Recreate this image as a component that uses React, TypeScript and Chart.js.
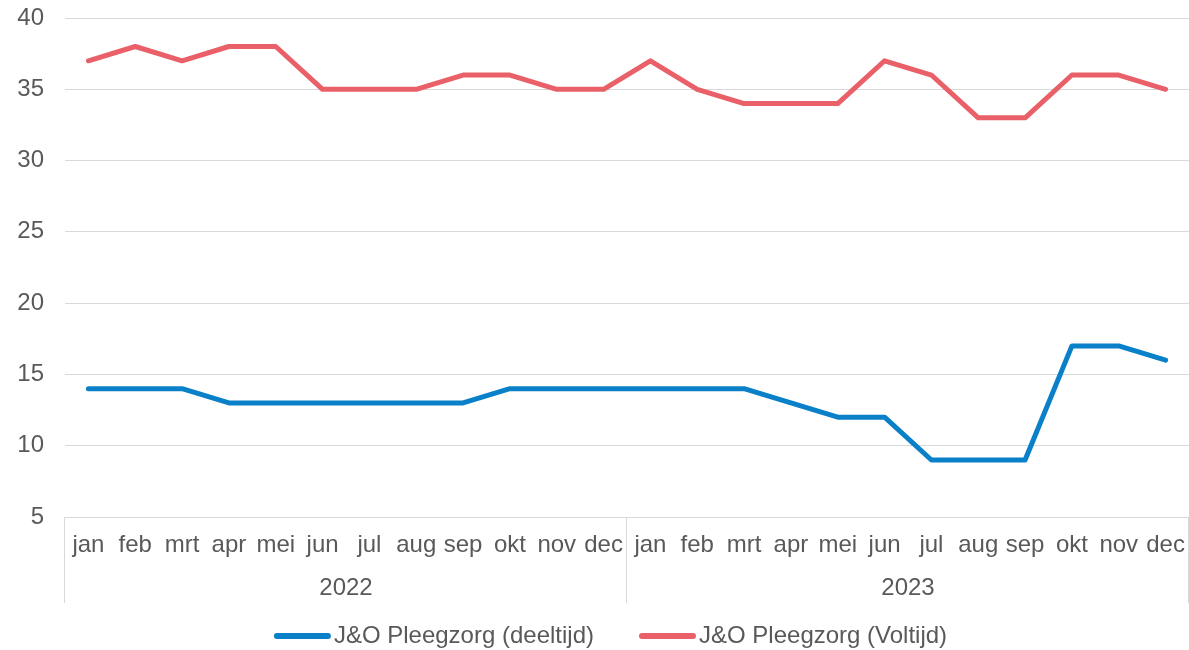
import React, { useEffect, useRef } from "react";
import { Chart, registerables } from "chart.js";

Chart.register(...registerables);

const months = ["jan", "feb", "mrt", "apr", "mei", "jun", "jul", "aug", "sep", "okt", "nov", "dec"];
const years = ["2022", "2023"];
const deeltijd = [14, 14, 14, 13, 13, 13, 13, 13, 13, 14, 14, 14, 14, 14, 14, 13, 12, 12, 9, 9, 9, 17, 17, 16];
const voltijd = [37, 38, 37, 38, 38, 35, 35, 35, 36, 36, 35, 35, 37, 35, 34, 34, 34, 37, 36, 33, 33, 36, 36, 35];
const yTicks = [5, 10, 15, 20, 25, 30, 35, 40];
const seriesNames = ["J&O Pleegzorg (deeltijd)", "J&O Pleegzorg (Voltijd)"];

const FONT = "'Liberation Sans', Arial, sans-serif";
const FS = 24;
const TEXT = "#595959";
const GRID = "#d9d9d9";
const BLUE = "#0a80c8";
const RED = "#ea6068";

const yearPlugin = {
  id: "yearGroups",
  afterDraw(chart: any) {
    const xs = chart.scales.x;
    const ctx = chart.ctx;
    const n = months.length;
    ctx.save();
    ctx.strokeStyle = GRID;
    ctx.lineWidth = 1;
    const top = xs.top;
    const bottom = xs.top + 86;
    for (let g = 0; g <= years.length; g++) {
      let x: number;
      if (g === 0) x = xs.left;
      else if (g === years.length) x = xs.right;
      else x = (xs.getPixelForValue(g * n - 1) + xs.getPixelForValue(g * n)) / 2;
      const px = Math.round(x) - 0.5;
      ctx.beginPath();
      ctx.moveTo(px, top);
      ctx.lineTo(px, bottom);
      ctx.stroke();
    }
    ctx.fillStyle = TEXT;
    ctx.font = `${FS}px ${FONT}`;
    ctx.textAlign = "center";
    ctx.textBaseline = "middle";
    years.forEach((y, g) => {
      const cx = (xs.getPixelForValue(g * n) + xs.getPixelForValue(g * n + n - 1)) / 2;
      ctx.fillText(y, cx, top + 71);
    });
    ctx.restore();
  },
};

const legendPlugin = {
  id: "customLegend",
  afterDraw(chart: any) {
    const ctx = chart.ctx;
    ctx.save();
    ctx.font = `${FS}px ${FONT}`;
    ctx.textBaseline = "middle";
    ctx.textAlign = "left";
    const lineLen = 57;
    const gapText = 3;
    const gapItem = 45;
    const items = chart.data.datasets.map((d: any) => ({
      label: d.label,
      color: d.borderColor,
      w: lineLen + gapText + ctx.measureText(d.label).width,
    }));
    const total = items.reduce((a: number, it: any) => a + it.w, 0) + gapItem * (items.length - 1);
    let x = chart.width / 2 + 16 - total / 2;
    const y = chart.height - 14;
    items.forEach((it: any) => {
      ctx.strokeStyle = it.color;
      ctx.lineWidth = 6;
      ctx.lineCap = "round";
      ctx.beginPath();
      ctx.moveTo(x + 3, y);
      ctx.lineTo(x + lineLen - 3, y);
      ctx.stroke();
      ctx.fillStyle = TEXT;
      ctx.fillText(it.label, x + lineLen + gapText, y);
      x += it.w + gapItem;
    });
    ctx.restore();
  },
};

export default function App() {
  const ref = useRef<HTMLCanvasElement>(null);
  useEffect(() => {
    document.body.style.margin = "0";
    const labels: string[] = [];
    years.forEach(() => months.forEach((m) => labels.push(m)));
    const mk = (i: number, data: number[], color: string) => ({
      label: seriesNames[i],
      data,
      borderColor: color,
      backgroundColor: color,
      borderWidth: 5,
      pointRadius: 0,
      tension: 0,
      borderCapStyle: "round",
      borderJoinStyle: "round",
    });
    const chart = new Chart(ref.current!, {
      type: "line",
      data: {
        labels,
        datasets: [mk(0, deeltijd, BLUE), mk(1, voltijd, RED)],
      },
      options: {
        animation: false,
        responsive: true,
        maintainAspectRatio: false,
        layout: { padding: { top: 18, right: 0, left: 0, bottom: 28 } },
        plugins: {
          tooltip: { enabled: false },
          legend: { display: false },
        },
        scales: {
          x: {
            type: "category",
            offset: true,
            grid: { display: true, drawOnChartArea: false, drawTicks: false, color: GRID },
            border: { display: true, color: GRID },
            ticks: {
              font: { family: FONT, size: FS },
              color: TEXT,
              padding: 14,
              maxRotation: 0,
              minRotation: 0,
              autoSkip: false,
            },
            afterFit: (s: any) => {
              s.height = 105;
              s.paddingLeft = 0;
              s.paddingRight = 0;
            },
          },
          y: {
            min: 5,
            max: 40,
            afterBuildTicks: (s: any) => {
              s.ticks = yTicks.map((v) => ({ value: v }));
            },
            grid: { color: GRID, drawTicks: false, lineWidth: 1 },
            border: { display: false },
            ticks: {
              font: { family: FONT, size: FS },
              color: TEXT,
              padding: 21,
            },
            afterFit: (s: any) => {
              s.width = 65;
              s.paddingTop = 0;
              s.paddingBottom = 0;
            },
          },
        },
      },
      plugins: [yearPlugin, legendPlugin],
    } as any);
    return () => chart.destroy();
  }, []);
  return (
    <div style={{ width: 1189, height: 650, position: "relative" }}>
      <canvas ref={ref} />
    </div>
  );
}
